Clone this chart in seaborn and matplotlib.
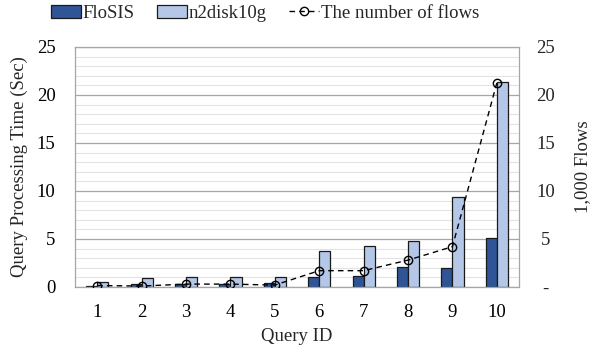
import numpy as np
import pandas as pd
import matplotlib
matplotlib.use("Agg")
import matplotlib.pyplot as plt
from matplotlib.ticker import MultipleLocator, FuncFormatter
import seaborn as sns

queries = ["1", "2", "3", "4", "5", "6", "7", "8", "9", "10"]
flosis = [0.15, 0.3, 0.3, 0.35, 0.4, 1.04, 1.15, 2.05, 1.95, 5.1]
n2disk = [0.5, 0.9, 1.0, 1.0, 1.05, 3.7, 4.24, 4.8, 9.4, 21.3]
flows = [0.15, 0.1, 0.3, 0.3, 0.2, 1.7, 1.7, 2.8, 4.2, 21.25]

sns.set_theme(style="white")
plt.rcParams["font.family"] = ["Liberation Serif", "DejaVu Serif"]

df = pd.DataFrame({
    "Query ID": queries * 2,
    "Time": flosis + n2disk,
    "System": ["FloSIS"] * 10 + ["n2disk10g"] * 10,
})

FS = 13.5
fig = plt.figure(figsize=(6.01, 3.54), dpi=100)
ax = fig.add_axes([0.1248, 0.1893, 0.7388, 0.678])

sns.barplot(data=df, x="Query ID", y="Time", hue="System",
            palette=["#2F5597", "#B4C7E7"], saturation=1, width=0.5, gap=0.0,
            edgecolor="#1a1a1a", linewidth=0.9, ax=ax, legend=True)

ax.set_ylim(0, 25)
ax.set_xlim(-0.5, 9.5)
ax.yaxis.set_major_locator(MultipleLocator(5))
ax.yaxis.set_minor_locator(MultipleLocator(1))
ax.grid(which="minor", axis="y", color="#E3E3E3", linewidth=0.8)
ax.grid(which="major", axis="y", color="#A6A6A6", linewidth=0.9)
ax.set_axisbelow(True)
for s in ax.spines.values():
    s.set_color("#A6A6A6")
    s.set_linewidth(0.9)
ax.tick_params(axis="both", which="both", length=0, labelsize=FS, colors="black")
ax.tick_params(axis="x", pad=12)
ax.tick_params(axis="y", pad=14)
ax.set_xlabel("Query ID", fontsize=FS)
ax.set_ylabel("Query Processing Time (Sec)", fontsize=FS)
ax.yaxis.set_label_coords(-0.126, 0.5)
ax.yaxis.label.set_va("center")
ax.xaxis.set_label_coords(0.5, -0.208)
ax.xaxis.label.set_va("center")

ax2 = ax.twinx()
sns.lineplot(x=np.arange(len(flows)), y=flows, ax=ax2, color="black",
             linestyle=(0, (4, 3)), linewidth=1.0, marker="o", markersize=6,
             markerfacecolor="none", markeredgecolor="black", markeredgewidth=1.0,
             label="The number of flows", legend=False)
ax2.set_ylim(0, 25)
ax2.yaxis.set_major_locator(MultipleLocator(5))
ax2.yaxis.set_major_formatter(FuncFormatter(lambda v, p: "-" if v == 0 else f"{int(v)}"))
ax2.tick_params(axis="y", length=0, labelsize=FS, pad=19)
for t in ax2.get_yticklabels():
    t.set_horizontalalignment("center")
ax2.set_ylabel("1,000 Flows", fontsize=FS)
ax2.yaxis.set_label_coords(1.144, 0.5)
ax2.yaxis.label.set_va("center")
for s in ax2.spines.values():
    s.set_visible(False)

h1, l1 = ax.get_legend_handles_labels()
h2, l2 = ax2.get_legend_handles_labels()
ax.get_legend().remove()
fig.legend(h1 + h2, l1 + l2, loc="center", bbox_to_anchor=(0.441, 0.963),
           ncol=3, frameon=False, fontsize=FS, handlelength=1.6,
           handletextpad=0.1, columnspacing=1.2)

fig.savefig("out.png", dpi=100)
